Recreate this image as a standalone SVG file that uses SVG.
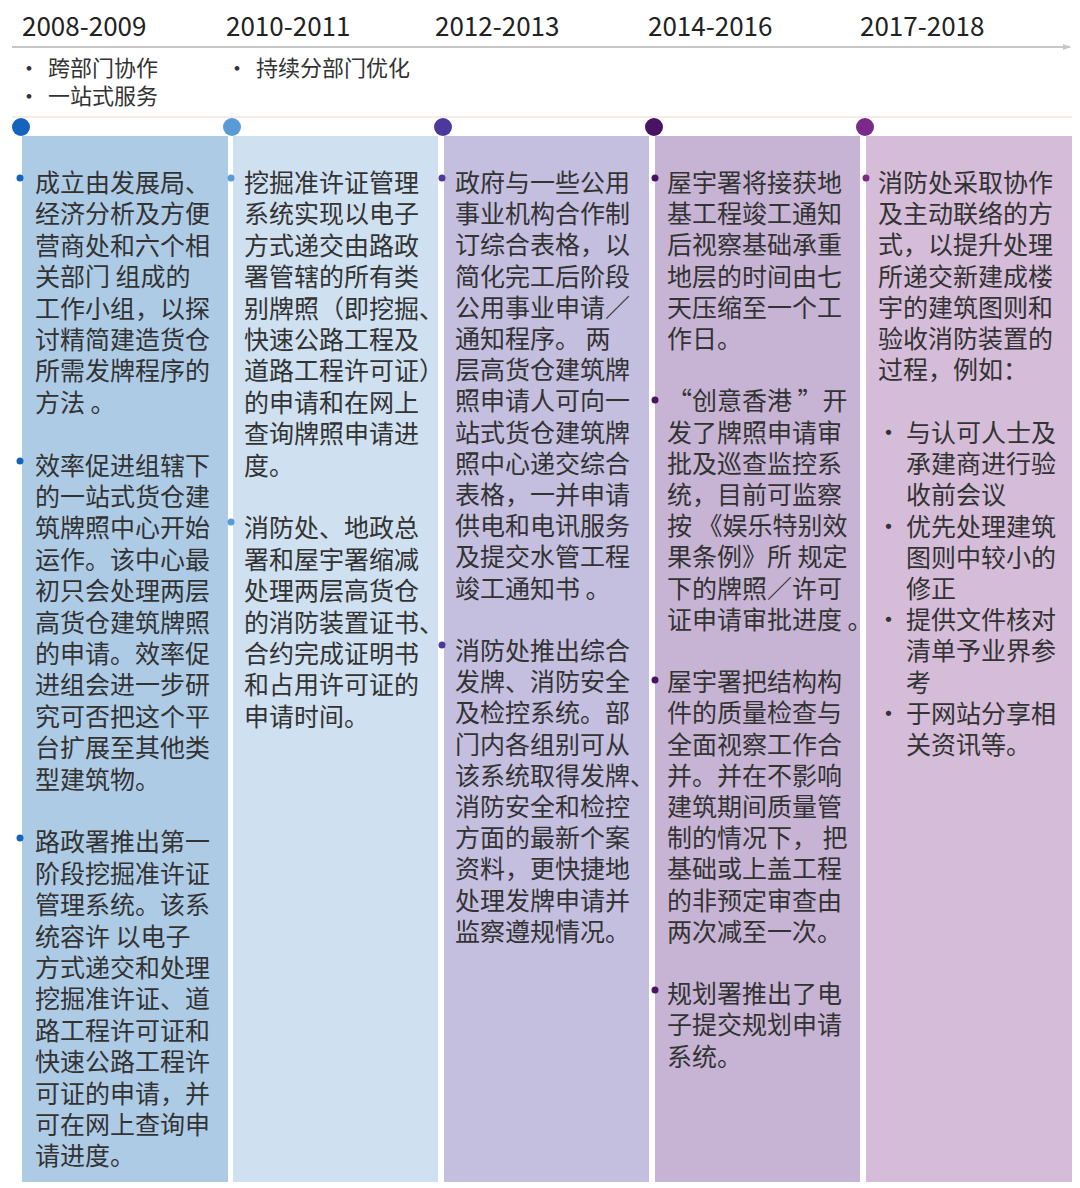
<svg xmlns="http://www.w3.org/2000/svg" width="1080" height="1188" viewBox="0 0 1080 1188">
<defs>
<style>
text{font-family:"Noto Sans CJK SC","Noto Sans",sans-serif;fill:#333}
.yr{font-size:26px;fill:#222}
.hd{font-size:22px}
.b{font-size:25px}
</style>
<marker id="ar" markerWidth="8" markerHeight="8" refX="7" refY="4" orient="auto" markerUnits="userSpaceOnUse"><path d="M0,1 L8,4 L0,7 z" fill="#c8c8c8"/></marker>
</defs>
<rect width="1080" height="1188" fill="#fff"/>
<g id="connectors">
<line x1="12" y1="47" x2="1070" y2="47" stroke="#c8c8c8" stroke-width="2" marker-end="url(#ar)"/>
<line x1="12" y1="117" x2="1072" y2="117" stroke="#f3e6dc" stroke-width="1.5"/>
</g>
<g id="header">
<text class="yr" x="22" y="36">2008-2009</text>
<text class="yr" x="226" y="36">2010-2011</text>
<text class="yr" x="435" y="36">2012-2013</text>
<text class="yr" x="648" y="36">2014-2016</text>
<text class="yr" x="860" y="36">2017-2018</text>
<text class="hd" x="18" y="76">•</text><text class="hd" x="48" y="76">跨部门协作</text>
<text class="hd" x="18" y="104">•</text><text class="hd" x="48" y="104">一站式服务</text>
<text class="hd" x="226" y="76">•</text><text class="hd" x="256" y="76">持续分部门优化</text>
</g>
<g id="col1">
<rect x="22" y="136" width="206" height="1046" fill="#aecbe6"/>
<circle cx="21" cy="127" r="9" fill="#1463bd"/>
<circle cx="20" cy="178" r="3.5" fill="#1463bd"/><circle cx="20" cy="461" r="3.5" fill="#1463bd"/><circle cx="20" cy="838" r="3.5" fill="#1463bd"/>
<text class="b" x="35" y="192"><tspan x="35">成立由发展局、</tspan><tspan x="35" dy="31.4">经济分析及方便</tspan><tspan x="35" dy="31.4">营商处和六个相</tspan><tspan x="35" dy="31.4">关部门 组成的</tspan><tspan x="35" dy="31.4">工作小组，以探</tspan><tspan x="35" dy="31.4">讨精简建造货仓</tspan><tspan x="35" dy="31.4">所需发牌程序的</tspan><tspan x="35" dy="31.4">方法 。</tspan><tspan x="35" dy="62.8">效率促进组辖下</tspan><tspan x="35" dy="31.4">的一站式货仓建</tspan><tspan x="35" dy="31.4">筑牌照中心开始</tspan><tspan x="35" dy="31.4">运作。该中心最</tspan><tspan x="35" dy="31.4">初只会处理两层</tspan><tspan x="35" dy="31.4">高货仓建筑牌照</tspan><tspan x="35" dy="31.4">的申请。效率促</tspan><tspan x="35" dy="31.4">进组会进一步研</tspan><tspan x="35" dy="31.4">究可否把这个平</tspan><tspan x="35" dy="31.4">台扩展至其他类</tspan><tspan x="35" dy="31.4">型建筑物。</tspan><tspan x="35" dy="62.8">路政署推出第一</tspan><tspan x="35" dy="31.4">阶段挖掘准许证</tspan><tspan x="35" dy="31.4">管理系统。该系</tspan><tspan x="35" dy="31.4">统容许 以电子</tspan><tspan x="35" dy="31.4">方式递交和处理</tspan><tspan x="35" dy="31.4">挖掘准许证、道</tspan><tspan x="35" dy="31.4">路工程许可证和</tspan><tspan x="35" dy="31.4">快速公路工程许</tspan><tspan x="35" dy="31.4">可证的申请，并</tspan><tspan x="35" dy="31.4">可在网上查询申</tspan><tspan x="35" dy="31.4">请进度。</tspan></text>
</g>
<g id="col2">
<rect x="233" y="136" width="205" height="1046" fill="#cfe0f0"/>
<circle cx="232" cy="127" r="9" fill="#5b9bd5"/>
<circle cx="231" cy="178" r="3.5" fill="#5b9bd5"/><circle cx="231" cy="522" r="3.5" fill="#5b9bd5"/>
<text class="b" x="244" y="192"><tspan x="244">挖掘准许证管理</tspan><tspan x="244" dy="31.4">系统实现以电子</tspan><tspan x="244" dy="31.4">方式递交由路政</tspan><tspan x="244" dy="31.4">署管辖的所有类</tspan><tspan x="244" dy="31.4">别牌照（即挖掘、</tspan><tspan x="244" dy="31.4">快速公路工程及</tspan><tspan x="244" dy="31.4">道路工程许可证）</tspan><tspan x="244" dy="31.4">的申请和在网上</tspan><tspan x="244" dy="31.4">查询牌照申请进</tspan><tspan x="244" dy="31.4">度。</tspan><tspan x="244" dy="62.8">消防处、地政总</tspan><tspan x="244" dy="31.4">署和屋宇署缩减</tspan><tspan x="244" dy="31.4">处理两层高货仓</tspan><tspan x="244" dy="31.4">的消防装置证书、</tspan><tspan x="244" dy="31.4">合约完成证明书</tspan><tspan x="244" dy="31.4">和占用许可证的</tspan><tspan x="244" dy="31.4">申请时间。</tspan></text>
</g>
<g id="col3">
<rect x="444" y="136" width="205" height="1046" fill="#c4bedf"/>
<circle cx="443" cy="127" r="9" fill="#4b3a9c"/>
<circle cx="442" cy="178" r="3.5" fill="#4b3a9c"/><circle cx="442" cy="645" r="3.5" fill="#4b3a9c"/>
<text class="b" x="455" y="192"><tspan x="455">政府与一些公用</tspan><tspan x="455" dy="31.2">事业机构合作制</tspan><tspan x="455" dy="31.2">订综合表格，以</tspan><tspan x="455" dy="31.2">简化完工后阶段</tspan><tspan x="455" dy="31.2">公用事业申请／</tspan><tspan x="455" dy="31.2">通知程序。 两</tspan><tspan x="455" dy="31.2">层高货仓建筑牌</tspan><tspan x="455" dy="31.2">照申请人可向一</tspan><tspan x="455" dy="31.2">站式货仓建筑牌</tspan><tspan x="455" dy="31.2">照中心递交综合</tspan><tspan x="455" dy="31.2">表格，一并申请</tspan><tspan x="455" dy="31.2">供电和电讯服务</tspan><tspan x="455" dy="31.2">及提交水管工程</tspan><tspan x="455" dy="31.2">竣工通知书 。</tspan><tspan x="455" dy="62.4">消防处推出综合</tspan><tspan x="455" dy="31.2">发牌、消防安全</tspan><tspan x="455" dy="31.2">及检控系统。部</tspan><tspan x="455" dy="31.2">门内各组别可从</tspan><tspan x="455" dy="31.2">该系统取得发牌、</tspan><tspan x="455" dy="31.2">消防安全和检控</tspan><tspan x="455" dy="31.2">方面的最新个案</tspan><tspan x="455" dy="31.2">资料，更快捷地</tspan><tspan x="455" dy="31.2">处理发牌申请并</tspan><tspan x="455" dy="31.2">监察遵规情况。</tspan></text>
</g>
<g id="col4">
<rect x="655" y="136" width="205" height="1046" fill="#c7b3d3"/>
<circle cx="654" cy="127" r="9" fill="#4a1262"/>
<circle cx="655" cy="178" r="3.5" fill="#4a1262"/><circle cx="655" cy="400" r="3.5" fill="#4a1262"/><circle cx="655" cy="680" r="3.5" fill="#4a1262"/><circle cx="655" cy="990" r="3.5" fill="#4a1262"/>
<text class="b" x="667" y="192"><tspan x="667">屋宇署将接获地</tspan><tspan x="667" dy="31.2">基工程竣工通知</tspan><tspan x="667" dy="31.2">后视察基础承重</tspan><tspan x="667" dy="31.2">地层的时间由七</tspan><tspan x="667" dy="31.2">天压缩至一个工</tspan><tspan x="667" dy="31.2">作日。</tspan><tspan x="667" dy="62.4">“创意香港 ”开</tspan><tspan x="667" dy="31.2">发了牌照申请审</tspan><tspan x="667" dy="31.2">批及巡查监控系</tspan><tspan x="667" dy="31.2">统，目前可监察</tspan><tspan x="667" dy="31.2">按 《娱乐特别效</tspan><tspan x="667" dy="31.2">果条例》所 规定</tspan><tspan x="667" dy="31.2">下的牌照／许可</tspan><tspan x="667" dy="31.2">证申请审批进度 。</tspan><tspan x="667" dy="62.4">屋宇署把结构构</tspan><tspan x="667" dy="31.2">件的质量检查与</tspan><tspan x="667" dy="31.2">全面视察工作合</tspan><tspan x="667" dy="31.2">并。并在不影响</tspan><tspan x="667" dy="31.2">建筑期间质量管</tspan><tspan x="667" dy="31.2">制的情况下， 把</tspan><tspan x="667" dy="31.2">基础或上盖工程</tspan><tspan x="667" dy="31.2">的非预定审查由</tspan><tspan x="667" dy="31.2">两次减至一次。</tspan><tspan x="667" dy="62.4">规划署推出了电</tspan><tspan x="667" dy="31.2">子提交规划申请</tspan><tspan x="667" dy="31.2">系统。</tspan></text>
</g>
<g id="col5">
<rect x="866" y="136" width="206" height="1046" fill="#d5bcd8"/>
<circle cx="865" cy="127" r="9" fill="#7a2b8a"/>
<circle cx="866" cy="178" r="3.5" fill="#7a2b8a"/>
<text class="b" x="878" y="192"><tspan x="878">消防处采取协作</tspan><tspan x="878" dy="31.2">及主动联络的方</tspan><tspan x="878" dy="31.2">式，以提升处理</tspan><tspan x="878" dy="31.2">所递交新建成楼</tspan><tspan x="878" dy="31.2">宇的建筑图则和</tspan><tspan x="878" dy="31.2">验收消防装置的</tspan><tspan x="878" dy="31.2">过程，例如：</tspan></text>
<text class="b" x="876" y="442"><tspan x="876">•</tspan><tspan x="876" dy="93.6">•</tspan><tspan x="876" dy="93.6">•</tspan><tspan x="876" dy="93.6">•</tspan></text>
<text class="b" x="906" y="442"><tspan x="906">与认可人士及</tspan><tspan x="906" dy="31.2">承建商进行验</tspan><tspan x="906" dy="31.2">收前会议</tspan><tspan x="906" dy="31.2">优先处理建筑</tspan><tspan x="906" dy="31.2">图则中较小的</tspan><tspan x="906" dy="31.2">修正</tspan><tspan x="906" dy="31.2">提供文件核对</tspan><tspan x="906" dy="31.2">清单予业界参</tspan><tspan x="906" dy="31.2">考</tspan><tspan x="906" dy="31.2">于网站分享相</tspan><tspan x="906" dy="31.2">关资讯等。</tspan></text>
</g>
</svg>
